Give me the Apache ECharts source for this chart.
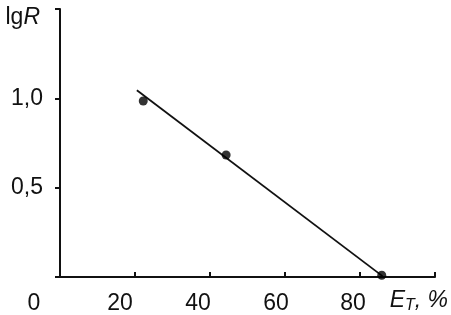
<!DOCTYPE html>
<html><head><meta charset="utf-8">
<script src="https://cdn.jsdelivr.net/npm/echarts@6/dist/echarts.min.js"></script>
<style>html,body{margin:0;padding:0;background:#fff}#c{width:451px;height:315px}</style>
</head><body><div id="c"></div>
<script>
// Data
const pointsX = [22.2, 44.3, 85.8];
const pointsY = [0.985, 0.683, 0.01];
const fitX = [20.5, 86.0];
const fitY = [1.045, 0.005];
const xTicks = [0, 20, 40, 60, 80, 100];
const xTickLabels = ['0', '20', '40', '60', '80', ''];
const yTicks = [0, 0.5, 1.0, 1.5];
const yTickLabels = ['', '0,5', '1,0', ''];

const FONT = 'Liberation Sans, Arial, sans-serif';
const FS = 23;
const chart = echarts.init(document.getElementById('c'));
const labelShift = { 0: 26, 20: 15, 40: 12, 60: 9, 80: 7, 100: 0 };
const richX = {};
xTicks.forEach(v => {
  richX['s' + v] = { fontFamily: FONT, fontSize: FS, color: '#111', padding: [0, 2 * labelShift[v], 0, 0] };
});
chart.setOption({
  animation: false,
  backgroundColor: '#fff',
  grid: { left: 60, right: 14, top: 9, bottom: 36 },
  xAxis: {
    type: 'value', min: 0, max: 100, interval: 20,
    axisLine: { lineStyle: { color: '#111', width: 2 } },
    axisTick: { show: true, inside: true, length: 5, lineStyle: { color: '#111', width: 2 } },
    splitLine: { show: false },
    axisLabel: {
      margin: 15,
      formatter: v => { const i = xTicks.indexOf(v); const t = i >= 0 ? xTickLabels[i] : ''; return t ? '{s' + v + '|' + t + '}' : ''; },
      rich: richX
    },
    name: '{i|E}{sub|T}{n|, %}',
    nameLocation: 'end',
    nameGap: 13,
    nameTextStyle: {
      align: 'right', verticalAlign: 'top', padding: [11, 0, 0, 0],
      rich: {
        i: { fontFamily: FONT, fontSize: FS, fontStyle: 'italic', color: '#111' },
        sub: { fontFamily: FONT, fontSize: 16, fontStyle: 'italic', color: '#111', padding: [10, 0, 0, 0] },
        n: { fontFamily: FONT, fontSize: FS, fontStyle: 'italic', color: '#111' }
      }
    }
  },
  yAxis: {
    type: 'value', min: 0, max: 1.5, interval: 0.5,
    axisLine: { show: true, lineStyle: { color: '#111', width: 2 } },
    axisTick: { show: true, inside: false, length: 5, lineStyle: { color: '#111', width: 2 } },
    splitLine: { show: false },
    axisLabel: {
      margin: 17, fontFamily: FONT, fontSize: FS, color: '#111',
      formatter: v => { const i = yTicks.findIndex(t => Math.abs(t - v) < 1e-9); return i >= 0 ? yTickLabels[i] : ''; }
    },
    name: '{r|lg}{i|R}',
    nameLocation: 'end',
    nameGap: -9,
    nameTextStyle: {
      align: 'right', verticalAlign: 'middle', padding: [0, 20, 0, 0],
      rich: {
        r: { fontFamily: FONT, fontSize: FS, color: '#111' },
        i: { fontFamily: FONT, fontSize: FS, fontStyle: 'italic', color: '#111' }
      }
    }
  },
  series: [
    {
      type: 'line', data: fitX.map((x, i) => [x, fitY[i]]),
      showSymbol: false, symbol: 'none',
      lineStyle: { color: '#111', width: 1.8 }, z: 2
    },
    {
      type: 'scatter', data: pointsX.map((x, i) => [x, pointsY[i]]),
      symbol: 'circle', symbolSize: 9,
      itemStyle: { color: '#000' }, z: 3
    }
  ]
});
</script></body></html>
